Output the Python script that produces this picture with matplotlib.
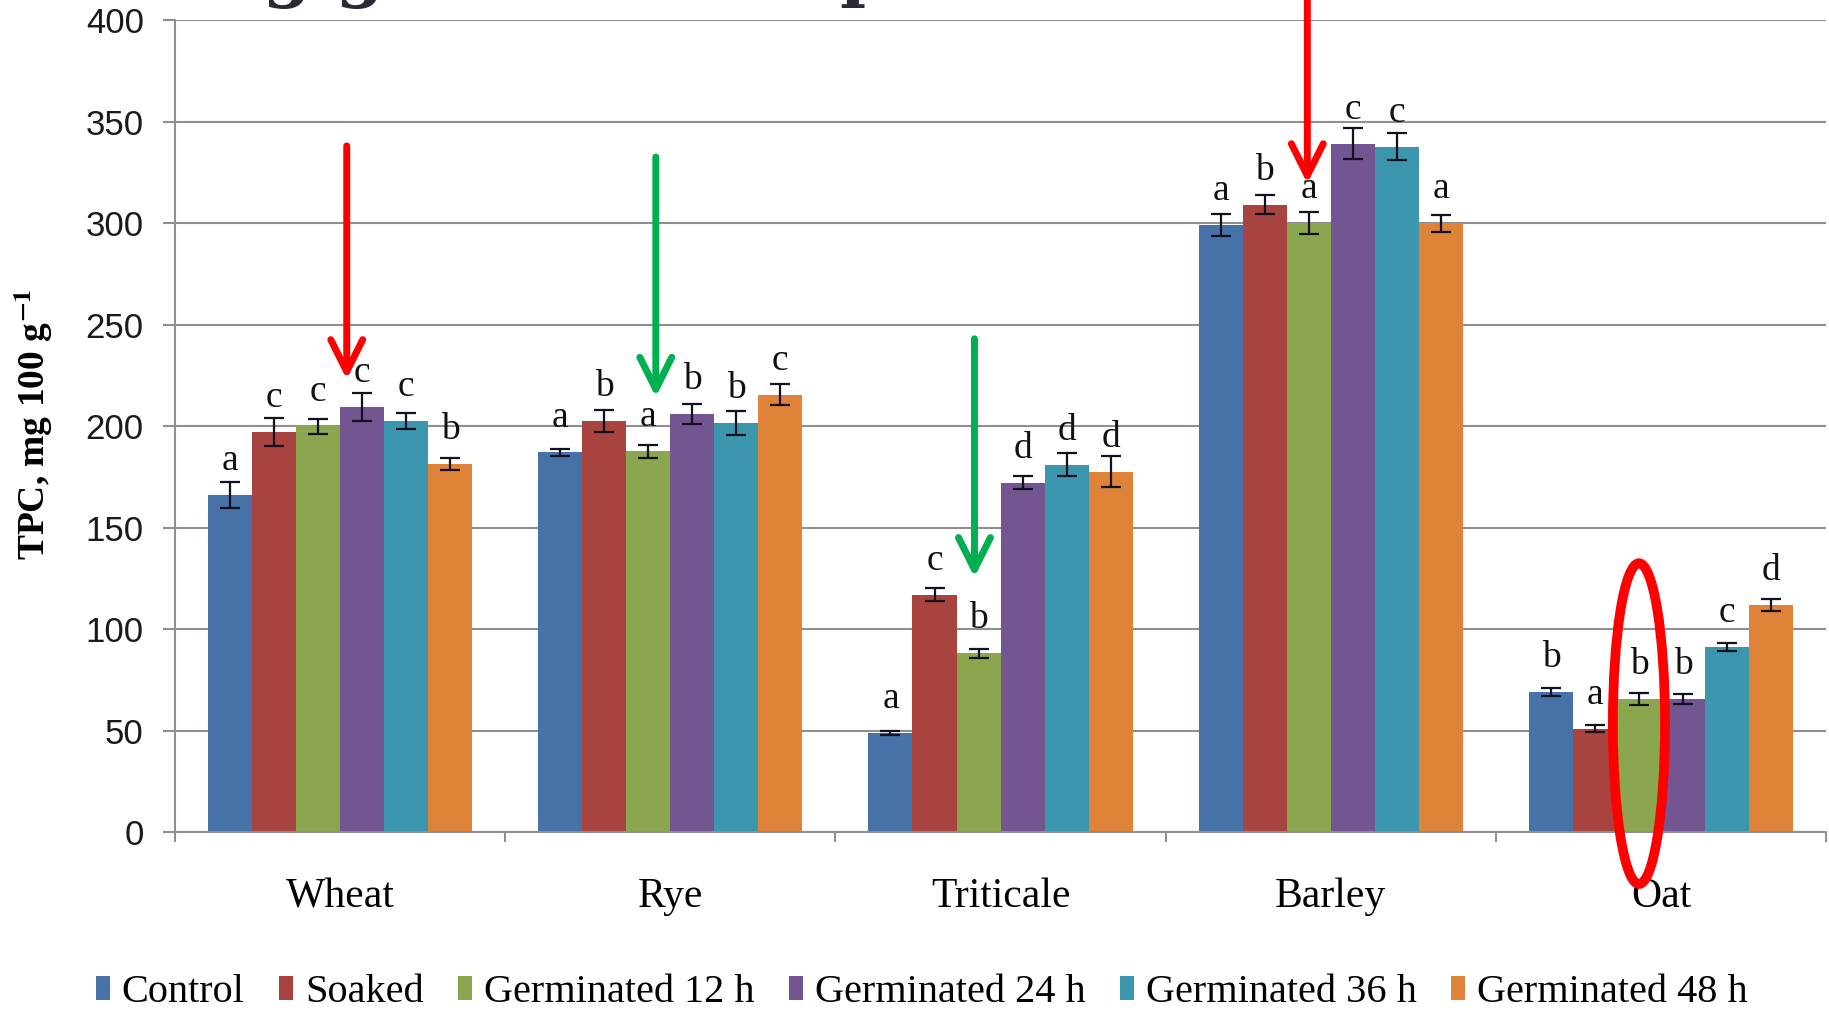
import numpy as np
import matplotlib
matplotlib.use("Agg")
import matplotlib.pyplot as plt
from matplotlib.patches import Patch, Ellipse

# --- data ---
categories = ["Wheat", "Rye", "Triticale", "Barley", "Oat"]
treatments = ["Control", "Soaked", "Germinated 12 h", "Germinated 24 h",
              "Germinated 36 h", "Germinated 48 h"]

control = [166, 187, 49, 299, 69]
soaked = [197, 202.5, 117, 309, 51]
germ12 = [200, 187.5, 88, 300, 65.5]
germ24 = [209.5, 206, 172, 339, 65.5]
germ36 = [202.5, 201.5, 181, 337.5, 91]
germ48 = [181.5, 215.5, 177.5, 300, 112]

err_control = [6.6, 1.9, 1.0, 5.4, 2.0]
err_soaked = [7.0, 5.3, 3.2, 4.7, 1.8]
err_germ12 = [3.7, 3.2, 2.3, 5.6, 3.0]
err_germ24 = [6.9, 4.8, 3.2, 7.7, 2.4]
err_germ36 = [4.1, 6.1, 5.7, 6.6, 1.9]
err_germ48 = [3.0, 5.3, 7.5, 4.2, 3.0]

let_control = ["a", "a", "a", "a", "b"]
let_soaked = ["c", "b", "c", "b", "a"]
let_germ12 = ["c", "a", "b", "a", "b"]
let_germ24 = ["c", "b", "d", "c", "b"]
let_germ36 = ["c", "b", "d", "c", "c"]
let_germ48 = ["b", "c", "d", "a", "d"]

colors = ["#4672A8", "#A8433F", "#8BA64F", "#725591", "#3C97AE", "#DE8338"]

values = [control, soaked, germ12, germ24, germ36, germ48]
errors = [err_control, err_soaked, err_germ12, err_germ24, err_germ36, err_germ48]
letters = [let_control, let_soaked, let_germ12, let_germ24, let_germ36, let_germ48]

serif = "Liberation Serif"

fig = plt.figure(figsize=(18.29, 10.11), dpi=100)
ax = fig.add_axes([0.0957, 0.177, 0.9027, 0.8032])

x = np.arange(len(categories))
n = len(treatments)
bw = 0.8 / n

for i in range(n):
    pos = x - 0.4 + bw * (i + 0.5)
    ax.bar(pos, values[i], width=bw, color=colors[i], zorder=2)
    ax.errorbar(pos, values[i], yerr=errors[i], fmt="none", ecolor="#111122",
                elinewidth=1.6, capsize=7, capthick=1.6, zorder=3)
    for xp, v, t in zip(pos, values[i], letters[i]):
        ax.annotate(t, (xp, v), xytext=(0, 18), textcoords="offset points",
                    ha="center", va="baseline", fontsize=27, family=serif,
                    color="#111111", zorder=4)

ax.set_xlim(-0.5, 4.5)
ax.set_ylim(0, 400)
ax.set_yticks(np.arange(0, 401, 50))
ax.yaxis.grid(True, color="#8f8f8f", linewidth=1.5, zorder=0)
ax.set_axisbelow(True)

ax.set_xticks(np.arange(-0.5, 4.6, 1))
ax.set_xticklabels([])
ax.set_xticks(x, minor=True)
ax.set_xticklabels(categories, minor=True, fontsize=30, family=serif)
ax.tick_params(axis="x", which="major", direction="out", length=7,
               width=1.5, color="#8f8f8f")
ax.tick_params(axis="x", which="minor", length=0, pad=33)
ax.tick_params(axis="y", direction="out", length=8.5, width=1.5,
               color="#8f8f8f", labelsize=25, labelcolor="#1a1a1a", pad=14)
for lab in ax.get_yticklabels():
    lab.set_family("Liberation Sans")

for s in ["top", "right"]:
    ax.spines[s].set_visible(False)
for s in ["left", "bottom"]:
    ax.spines[s].set_color("#8f8f8f")
    ax.spines[s].set_linewidth(1.5)

# y label
plt.rcParams["mathtext.fontset"] = "stix"
fig.text(0.018, 0.5806, r"TPC, mg 100 g$^{\mathbf{-1}}$", rotation=90,
         ha="center", va="center", fontsize=27, fontweight="bold", family=serif)

# cut-off slide title at the very top
fig.text(1137 / 1829, 1 + 6 / 1011, "Changes in TPC during germination process",
         ha="right", va="baseline", fontsize=50, fontweight="bold",
         family="DejaVu Serif", color="#2a2a36")

# legend
handles = [Patch(facecolor=c, edgecolor="none") for c in colors]
fig.legend(handles, treatments, loc="center", bbox_to_anchor=(0.504, 0.018),
           ncol=6, frameon=False, prop={"family": serif, "size": 29},
           handlelength=0.35, handleheight=0.55, handletextpad=0.3,
           columnspacing=0.85, borderaxespad=0)

# highlight marks
arrow_style = "->,head_length=2.3,head_width=1.15"
ax.annotate("", xy=(0.02, 223), xytext=(0.02, 338),
            arrowprops=dict(arrowstyle=arrow_style, color="#FF0000", lw=5,
                            mutation_scale=10, shrinkA=0, shrinkB=0))
ax.annotate("", xy=(0.956, 214.3), xytext=(0.956, 332.5),
            arrowprops=dict(arrowstyle=arrow_style, color="#00B050", lw=5,
                            mutation_scale=10, shrinkA=0, shrinkB=0))
ax.annotate("", xy=(1.921, 125.5), xytext=(1.921, 243),
            arrowprops=dict(arrowstyle=arrow_style, color="#00B050", lw=5,
                            mutation_scale=10, shrinkA=0, shrinkB=0))
ax.annotate("", xy=(2.929, 319.5), xytext=(2.929, 440),
            arrowprops=dict(arrowstyle=arrow_style, color="#FF0000", lw=5,
                            mutation_scale=10, shrinkA=0, shrinkB=0),
            annotation_clip=False)
ax.add_patch(Ellipse((4 - 0.4 + bw * 2.5, 53.4), width=0.158, height=158,
                     fill=False, edgecolor="#FF0000", lw=7, clip_on=False,
                     zorder=5))

fig.savefig("out.png", dpi=100)
